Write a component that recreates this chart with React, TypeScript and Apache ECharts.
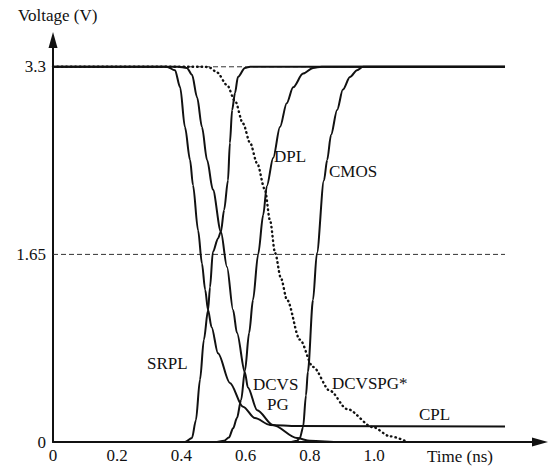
import React, { useEffect, useRef } from "react";
import * as echarts from "echarts";

// Time axis (ns) and voltage levels
const X_TICK_STEP = 0.2;
const X_LABEL_MAX = 1.0;
const X_MAX = 1.517;
const Y_LEVELS = [0, 1.65, 3.3];
const Y_MAX = 3.5356;
const END_TIME = 1.408;

// CPL (falling, with residual low level)
const CPL_T = [0, 0.354, 0.38, 0.396, 0.411, 0.427, 0.436, 0.452, 0.464, 0.474, 0.483, 0.494, 0.514, 0.551, 0.592, 0.629, 0.676, 0.76, 1.408];
const CPL_V = [3.3, 3.3, 3.27, 3.12, 2.77, 2.48, 2.26, 1.86, 1.57, 1.34, 1.16, 1.01, 0.78, 0.52, 0.31, 0.21, 0.15, 0.14, 0.136];

// SRPL (rising)
const SRPL_T = [0, 0.411, 0.433, 0.445, 0.458, 0.47, 0.483, 0.489, 0.498, 0.514, 0.523, 0.533, 0.545, 0.551, 0.558, 0.567, 0.576, 0.598, 0.614, 1.408];
const SRPL_V = [0, 0, 0.035, 0.19, 0.55, 0.9, 1.16, 1.36, 1.67, 1.79, 1.85, 2.04, 2.3, 2.63, 2.92, 3.07, 3.21, 3.29, 3.3, 3.3];

// DCVS PG (falling)
const DCVS_T = [0, 0.389, 0.417, 0.433, 0.449, 0.464, 0.48, 0.498, 0.523, 0.542, 0.561, 0.573, 0.598, 0.607, 0.636, 0.685, 0.76, 0.8, 0.894, 1.408];
const DCVS_V = [3.3, 3.3, 3.29, 3.23, 3.03, 2.77, 2.48, 2.22, 1.85, 1.54, 1.16, 0.96, 0.61, 0.48, 0.28, 0.15, 0.035, 0.01, 0, 0];

// DPL (rising)
const DPL_T = [0, 0.505, 0.533, 0.548, 0.561, 0.573, 0.586, 0.598, 0.611, 0.623, 0.639, 0.655, 0.666, 0.686, 0.707, 0.728, 0.748, 0.779, 0.81, 0.837, 1.408];
const DPL_V = [0, 0, 0.01, 0.04, 0.12, 0.21, 0.37, 0.63, 0.96, 1.25, 1.65, 2.0, 2.25, 2.5, 2.77, 2.98, 3.12, 3.24, 3.29, 3.3, 3.3];

// CMOS (rising)
const CMOS_T = [0, 0.738, 0.76, 0.769, 0.779, 0.788, 0.794, 0.81, 0.822, 0.844, 0.854, 0.866, 0.885, 0.903, 0.925, 0.947, 0.966, 1.408];
const CMOS_V = [0, 0, 0.01, 0.035, 0.13, 0.41, 0.62, 1.25, 1.66, 2.3, 2.48, 2.7, 2.92, 3.1, 3.21, 3.27, 3.3, 3.3];

// DCVSPG* (falling, dotted)
const STAR_T = [0, 0.474, 0.49, 0.511, 0.542, 0.567, 0.592, 0.614, 0.636, 0.66, 0.676, 0.692, 0.71, 0.729, 0.769, 0.81, 0.863, 0.916, 0.997, 1.05, 1.097];
const STAR_V = [3.3, 3.3, 3.29, 3.25, 3.14, 3.0, 2.8, 2.63, 2.45, 2.22, 1.95, 1.66, 1.44, 1.25, 0.9, 0.66, 0.45, 0.29, 0.13, 0.05, 0.01];

const CURVE_LABELS = [
  { text: "DPL", x: 274, y: 156 },
  { text: "CMOS", x: 329, y: 171 },
  { text: "SRPL", x: 147, y: 363 },
  { text: "DCVS", x: 253, y: 384 },
  { text: "PG", x: 267, y: 404 },
  { text: "DCVSPG*", x: 332, y: 383 },
  { text: "CPL", x: 419, y: 414 },
  { text: "Voltage (V)", x: 18, y: 15 },
  { text: "Time (ns)", x: 427, y: 456 },
];

const FONT = '"Liberation Serif", "DejaVu Serif", serif';
const INK = "#111";

const zip = (t: number[], v: number[]) => t.map((x, i) => [x, v[i]]);

export default function App() {
  const ref = useRef<HTMLDivElement>(null);
  useEffect(() => {
    document.body.style.margin = "0";
    const chart = echarts.init(ref.current!, null, { renderer: "svg" });
    const solid = (name: string, t: number[], v: number[]) => ({
      name,
      type: "line",
      data: zip(t, v),
      showSymbol: false,
      smooth: 0.3,
      smoothMonotone: "x",
      lineStyle: { color: INK, width: 2 },
      silent: true,
    });
    chart.setOption({
      animation: false,
      backgroundColor: "#fff",
      grid: { left: 53, right: 10, top: 40, bottom: 25 },
      xAxis: {
        type: "value",
        min: 0,
        max: X_MAX,
        interval: X_TICK_STEP,
        axisLine: { show: true, symbol: ["none", "triangle"], symbolSize: [9, 16], lineStyle: { color: INK, width: 2 } },
        axisTick: { show: false },
        splitLine: { show: false },
        axisLabel: {
          margin: 5,
          color: INK,
          fontFamily: FONT,
          fontSize: 17,
          showMaxLabel: false,
          formatter: (v: number) => (v > X_LABEL_MAX + 1e-6 ? "" : v === 0 ? "0" : v.toFixed(1)),
        },
      },
      yAxis: {
        type: "value",
        min: 0,
        max: Y_MAX,
        interval: 1.65,
        axisLine: { show: true, symbol: ["none", "triangle"], symbolSize: [9, 16], lineStyle: { color: INK, width: 2 } },
        axisTick: { show: false },
        splitLine: { show: false },
        axisLabel: {
          margin: 7,
          color: INK,
          fontFamily: FONT,
          fontSize: 17,
          showMaxLabel: false,
          formatter: (v: number) => {
            const hit = Y_LEVELS.find((l) => Math.abs(l - v) < 1e-6);
            return hit === undefined ? "" : String(hit);
          },
        },
      },
      series: [
        {
          name: "ref1.65",
          type: "line",
          data: [[0, Y_LEVELS[1]], [END_TIME, Y_LEVELS[1]]],
          showSymbol: false,
          silent: true,
          lineStyle: { color: "#333", width: 1, type: [5, 3] },
        },
        {
          name: "ref3.3",
          type: "line",
          data: [[0, Y_LEVELS[2]], [END_TIME, Y_LEVELS[2]]],
          showSymbol: false,
          silent: true,
          lineStyle: { color: "#333", width: 1, type: [5, 3] },
        },
        {
          name: "DCVSPG*",
          type: "line",
          data: zip(STAR_T, STAR_V),
          showSymbol: false,
          smooth: 0.3,
          smoothMonotone: "x",
          silent: true,
          lineStyle: { color: INK, width: 2.4, type: [0.5, 4], cap: "round" },
        },
        solid("CPL", CPL_T, CPL_V),
        solid("SRPL", SRPL_T, SRPL_V),
        solid("DCVS PG", DCVS_T, DCVS_V),
        solid("DPL", DPL_T, DPL_V),
        solid("CMOS", CMOS_T, CMOS_V),
      ],
      graphic: CURVE_LABELS.map((l) => ({
        type: "text",
        x: l.x,
        y: l.y,
        silent: true,
        style: { text: l.text, fill: INK, font: `17px ${FONT}`, textVerticalAlign: "middle", verticalAlign: "middle" },
      })),
    });
    return () => chart.dispose();
  }, []);
  return <div ref={ref} style={{ width: 550, height: 467, position: "absolute", left: 0, top: 0 }} />;
}
